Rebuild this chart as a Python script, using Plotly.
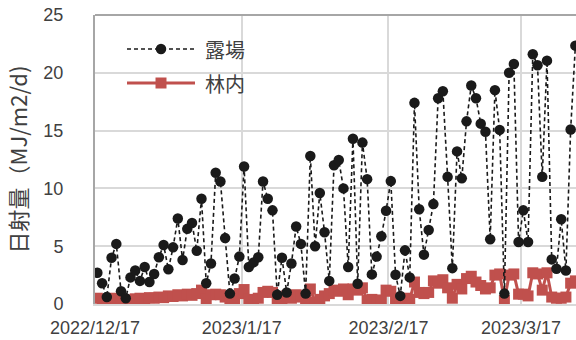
import pandas as pd
import plotly.graph_objects as go

# Daily solar radiation (MJ/m2/d), 2022-12-17 onward
start_date = "2022-12-17"
open_site = [
    2.7, 1.8, 0.6, 4.0, 5.2, 1.1, 0.5, 2.3, 2.9, 2.0,
    3.2, 1.9, 2.6, 4.05, 5.1, 3.0, 4.9, 7.4, 3.8, 6.5,
    7.0, 4.6, 9.1, 1.8, 3.5, 11.35, 10.6, 5.7, 0.9, 2.2,
    4.1, 11.9, 3.2, 3.6, 4.05, 10.6, 9.1, 8.1, 0.8, 4.0,
    1.0, 3.5, 6.7, 5.2, 0.9, 12.8, 5.0, 9.6, 6.2, 2.0,
    12.0, 12.45, 10.0, 3.2, 14.3, 1.75, 13.96, 10.8, 2.56, 4.1,
    5.86, 8.06, 10.63, 2.53, 0.7, 4.64, 2.3, 17.4, 8.2, 4.27,
    6.4, 8.64, 17.8, 18.4, 11.0, 3.1, 13.2, 10.87, 15.8, 18.9,
    17.8, 15.6, 14.9, 5.6, 18.5, 15.06, 0.9, 20.0, 20.76, 5.37,
    8.1, 5.37, 21.6, 20.65, 11.0, 21.05, 3.86, 3.05, 7.33, 2.9,
    15.1, 22.35,
]
forest = [
    0.5, 0.4, 0.3, 0.5, 0.45, 0.4, 0.2, 0.35, 0.45, 0.5,
    0.4, 0.55, 0.5, 0.6, 0.55, 0.7, 0.65, 0.8, 0.7, 0.85,
    0.75, 0.9, 1.2, 0.4, 0.8, 0.85, 0.8, 0.6, 0.4, 0.45,
    0.9, 1.25, 0.4, 0.3, 0.5, 1.0, 1.1, 1.0, 0.3, 0.4,
    0.7, 0.5, 0.8, 0.6, 0.3, 1.3, 0.15, 0.4, 0.7, 0.9,
    1.2, 1.1, 1.3, 0.8, 1.3, 1.2, 1.4, 0.3, 0.4, 0.3,
    0.35, 1.2, 1.1, 0.4, 0.3, 0.5, 0.4, 1.9, 1.0, 0.9,
    1.0, 2.0, 1.8, 2.1, 1.4, 0.5, 1.7, 1.3, 2.2, 2.4,
    1.9, 1.6, 1.3, 1.4, 2.5, 2.6, 0.3, 2.5, 2.6, 0.85,
    0.85, 0.7, 2.7, 2.6, 1.2, 2.7, 0.6, 0.5, 0.5, 0.6,
    1.8, 2.0,
]
series_names = ["露場", "林内"]
tick_dates = ["2022-12-17", "2023-01-17", "2023-02-17", "2023-03-17"]
tick_labels = ["2022/12/17", "2023/1/17", "2023/2/17", "2023/3/17"]
y_ticks = [0, 5, 10, 15, 20, 25]

dates = pd.date_range(start_date, periods=len(open_site), freq="D")
# each day's value sits in the middle of its day slot
x_mid = dates + pd.Timedelta(hours=12)

BLACK = "#1a1a1a"
RED = "#C0504D"
GRID = "#D9D9D9"
TEXT = "#404040"
TICK_FONT = dict(family="Liberation Sans, Arial, sans-serif", size=18, color=TEXT)
CJK_FONT = "Noto Sans CJK JP"

fig = go.Figure()
fig.add_trace(go.Scatter(
    x=x_mid, y=forest, name=series_names[1], mode="lines+markers",
    line=dict(color=RED, width=3),
    marker=dict(symbol="square", size=11, color=RED),
    showlegend=False,
))
fig.add_trace(go.Scatter(
    x=x_mid, y=open_site, name=series_names[0], mode="lines+markers",
    line=dict(color=BLACK, width=1.6, dash="4px,3px"),
    marker=dict(symbol="circle", size=10.5, color=BLACK),
    showlegend=False,
))

# legend keys drawn on an overlay axis measured in pixels of the plot area
fig.add_trace(go.Scatter(
    x=[127, 161, 195], y=[49, 49, 49], mode="lines", xaxis="x2", yaxis="y2",
    line=dict(color=BLACK, width=1.6, dash="4px,3px"), showlegend=False, hoverinfo="skip",
))
fig.add_trace(go.Scatter(
    x=[161], y=[49], mode="markers", xaxis="x2", yaxis="y2",
    marker=dict(symbol="circle", size=10.5, color=BLACK), showlegend=False, hoverinfo="skip",
))
fig.add_trace(go.Scatter(
    x=[127, 161, 195], y=[83, 83, 83], mode="lines+markers", xaxis="x2", yaxis="y2",
    line=dict(color=RED, width=3),
    marker=dict(symbol="square", size=11, color=RED, opacity=[0, 1, 0]),
    showlegend=False, hoverinfo="skip",
))
for label, ypix in zip(series_names, [49, 83]):
    fig.add_annotation(
        x=203, y=ypix, xref="x2", yref="y2", text=label, showarrow=False,
        xanchor="left", yanchor="middle",
        font=dict(family=CJK_FONT, size=20, color=TEXT),
    )

x_end = pd.Timestamp(start_date) + pd.Timedelta(days=101.63)

fig.update_layout(
    width=576, height=340,
    margin=dict(l=95, r=0, t=15, b=36),
    paper_bgcolor="white", plot_bgcolor="white",
    xaxis=dict(
        type="date", range=[pd.Timestamp(start_date), x_end],
        tickvals=pd.to_datetime(tick_dates), ticktext=tick_labels,
        showgrid=True, gridcolor=GRID, gridwidth=2,
        showline=True, linecolor=GRID, linewidth=2,
        zeroline=False, ticks="", tickfont=TICK_FONT,
        ticklabelstandoff=6,
    ),
    yaxis=dict(
        range=[0, 25], tickvals=y_ticks,
        showgrid=True, gridcolor=GRID, gridwidth=2,
        showline=True, linecolor="#A6A6A6", linewidth=2,
        zeroline=False, ticks="", tickfont=TICK_FONT,
        ticklabelstandoff=26,
        title=dict(text="日射量（MJ/m2/d)", standoff=10,
                   font=dict(family=CJK_FONT, size=22, color=TEXT)),
    ),
    xaxis2=dict(overlaying="x", range=[95, 576], visible=False),
    yaxis2=dict(overlaying="y", range=[304, 15], visible=False),
    shapes=[dict(type="line", xref="paper", yref="paper", x0=0, x1=1, y0=1, y1=1,
                 line=dict(color="#A6A6A6", width=2))],
)

fig.write_html("out.html")
